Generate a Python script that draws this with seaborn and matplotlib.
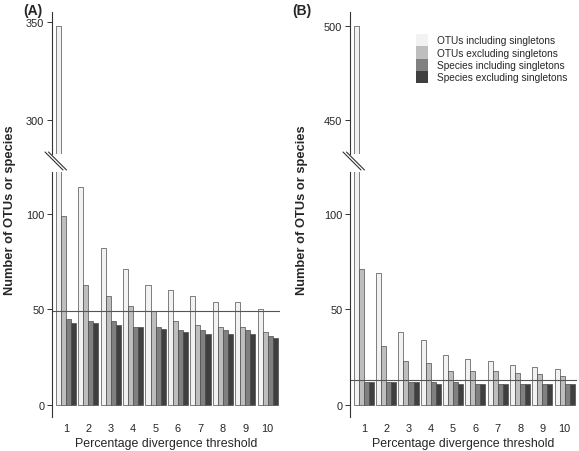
import numpy as np
import pandas as pd
import matplotlib
matplotlib.use("Agg")
import matplotlib.pyplot as plt
import seaborn as sns
from matplotlib.patches import Patch
from matplotlib.lines import Line2D

sns.set_style("white")
plt.rcParams['font.family'] = ['Liberation Sans', 'DejaVu Sans']

thresholds = ["1", "2", "3", "4", "5", "6", "7", "8", "9", "10"]
series = ["OTUs including singletons", "OTUs excluding singletons",
          "Species including singletons", "Species excluding singletons"]
colors = ["#f2f2f2", "#bebebe", "#808080", "#3f3f3f"]

# Panel A
a_otu_incl = [348, 114, 82, 71, 63, 60, 57, 54, 54, 50]
a_otu_excl = [99, 63, 57, 52, 49, 44, 42, 41, 41, 38]
a_sp_incl = [45, 44, 44, 41, 41, 39, 39, 39, 39, 36]
a_sp_excl = [43, 43, 42, 41, 40, 38, 37, 37, 37, 35]
a_hline = 49

# Panel B
b_otu_incl = [500, 69, 38, 34, 26, 24, 23, 21, 20, 19]
b_otu_excl = [71, 31, 23, 22, 18, 18, 18, 17, 16, 15]
b_sp_incl = [12, 12, 12, 12, 12, 11, 11, 11, 11, 11]
b_sp_excl = [12, 12, 12, 11, 11, 11, 11, 11, 11, 11]
b_hline = 13


def make_df(vals):
    rows = []
    for s, v in zip(series, vals):
        for t, y in zip(thresholds, v):
            rows.append({"threshold": t, "series": s, "count": y})
    return pd.DataFrame(rows)


dfA = make_df([a_otu_incl, a_otu_excl, a_sp_incl, a_sp_excl])
dfB = make_df([b_otu_incl, b_otu_excl, b_sp_incl, b_sp_excl])

W, H = 579, 452
fig = plt.figure(figsize=(W / 100, H / 100), dpi=100)


def fr(x0, y_top, x1, y_bot):
    return [x0 / W, 1 - y_bot / H, (x1 - x0) / W, (y_bot - y_top) / H]


TICK_FS = 7.9
XLAB_FS = 8.9
YLAB_FS = 9.3


def draw_panel(df, hval, xl, xr, upper_lim, upper_ticks, lower_lim, label, lx,
               brk, ylab_x):
    ax_lo = fig.add_axes(fr(xl, 173, xr, 418))
    ax_hi = fig.add_axes(fr(xl, 13, xr, 155))
    for ax in (ax_lo, ax_hi):
        sns.barplot(data=df, x="threshold", y="count", hue="series",
                    order=thresholds, hue_order=series, palette=colors,
                    width=0.9, edgecolor="#4d4d4d", linewidth=0.5,
                    ax=ax, legend=False, errorbar=None)
        ax.set_xlim(-0.62, 9.55)
        for sp in ("top", "right", "bottom"):
            ax.spines[sp].set_visible(False)
        ax.spines["left"].set_color("#333333")
        ax.spines["left"].set_linewidth(0.8)
        ax.tick_params(axis="y", left=True, length=3.5, width=0.7, color="#333333",
                       labelsize=TICK_FS, pad=2)
        ax.set_ylabel("")
        ax.set_xlabel("")
        ax.patch.set_alpha(0)
    ax_lo.axhline(hval, color="#555555", lw=0.8)
    ax_lo.set_ylim(*lower_lim)
    ax_lo.set_yticks([0, 50, 100])
    ax_lo.tick_params(axis="x", bottom=False, labelsize=TICK_FS, pad=1)
    ax_lo.set_xlabel("Percentage divergence threshold", fontsize=XLAB_FS, labelpad=3)
    ax_lo.set_ylabel("Number of OTUs or species", fontsize=YLAB_FS, fontweight="bold")
    ax_lo.yaxis.set_label_coords((ylab_x - xl) / (xr - xl), 0.85,
                                 transform=ax_lo.transAxes)
    ax_hi.set_ylim(*upper_lim)
    ax_hi.set_yticks(upper_ticks)
    ax_hi.set_xticks([])
    fig.text(lx / W, 1 - 11 / H, label, fontsize=10, fontweight="bold",
             ha="left", va="center")
    # break marks
    for dx in (0, 3.5):
        fig.add_artist(Line2D([(brk[0] + dx) / W, (brk[2] + dx) / W],
                              [1 - brk[1] / H, 1 - brk[3] / H],
                              color="#333333", lw=0.8))
    return ax_lo, ax_hi


axA_lo, axA_hi = draw_panel(dfA, a_hline, 52, 280, (282.3, 355.2), [300, 350],
                            (-6.3, 122), "(A)", 23, (45, 153, 63, 171), 16)
axB_lo, axB_hi = draw_panel(dfB, b_hline, 350, 577, (432, 507.4), [450, 500],
                            (-6.3, 122), "(B)", 292, (343, 153, 361, 171), 308)

handles = [Patch(facecolor=c, edgecolor="none") for c in colors]
fig.legend(handles, series, loc="upper left",
           bbox_to_anchor=(416 / W, 1 - 35 / H), frameon=False,
           fontsize=7.25, handlelength=1.2, handleheight=1.5, labelspacing=0,
           handletextpad=0.9, borderpad=0, borderaxespad=0)

fig.savefig("out.png", dpi=100)
